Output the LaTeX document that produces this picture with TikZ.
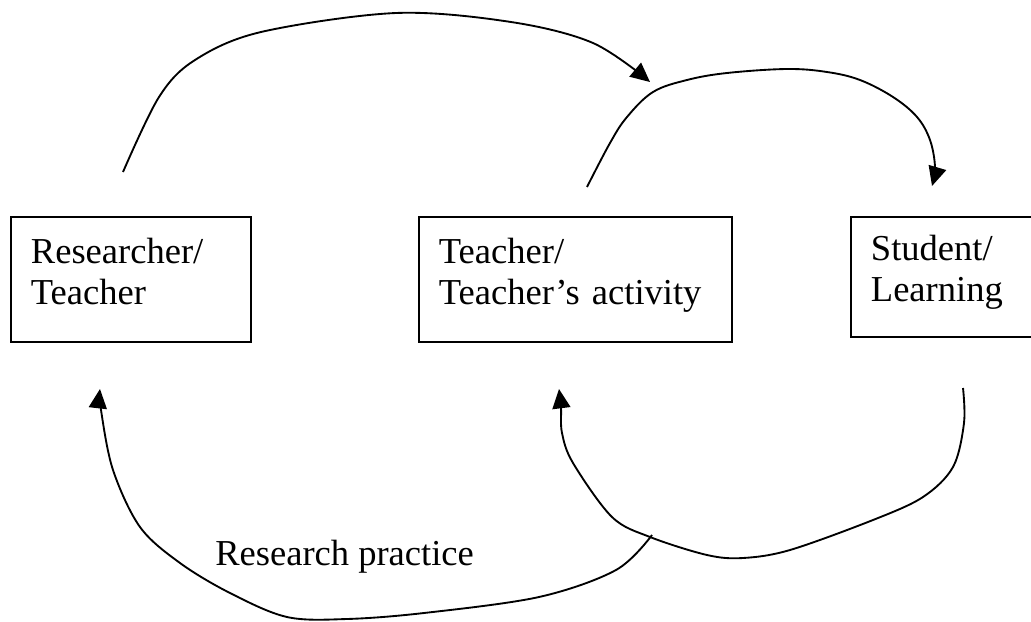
\documentclass[tikz,border=0pt]{standalone}
\usepackage{fontspec}
\setmainfont{Liberation Serif}
\usetikzlibrary{arrows.meta}
\newcommand\topstr{\rule{0pt}{21.5pt}}
\newcommand\botstr{\rule[-15.2pt]{0pt}{0pt}}
\begin{document}
\begin{tikzpicture}[x=0.75pt,y=-0.75pt,
  txt/.style={font=\fontsize{27.4pt}{30.75pt}\selectfont},
  box/.style={txt, draw, line width=1.4pt, rectangle, anchor=north west,
    inner xsep=15pt, inner ysep=0pt, align=left, minimum height=93.75pt},
  conn/.style={line width=1.4pt, -{Triangle[length=14.5pt,width=13.5pt]}},
  lab/.style={txt, inner sep=0pt, anchor=base west}]
\useasboundingbox (0,0) rectangle (1031,621);
\clip (0,0) rectangle (1031,621);

\node[box, text width=150pt, minimum width=180pt] (rt) at (10,216) {\topstr Researcher/\\Teacher\botstr};
\node[box, text width=204.75pt, minimum width=234.75pt] (ta) at (418,216) {\topstr Teacher/\\Teacher’s activity\botstr};
\node[box, text width=170pt, minimum width=200pt, minimum height=90pt] (sl) at (850,216) {\topstr Student/\\Learning\botstr};

\node[lab] (rp) at (215,565) {Research practice};

\coordinate (c1s) at (123,172);
\coordinate (c1e) at (650,82);
\coordinate (c2s) at (587,187);
\coordinate (c2e) at (932,186);
\coordinate (c3s) at (652,535);
\coordinate (c3e) at (100,389);
\coordinate (c4s) at (963,388);
\coordinate (c4e) at (559,389);

\draw[conn] plot[smooth, tension=0.55] coordinates {(c1s) (159,97) (195,60) (261,32) (396,13) (511,22) (593,43) (c1e)};
\draw[conn] plot[smooth, tension=0.6] coordinates {(c2s) (610,143) (627,117) (653,92) (687,80) (727,73) (787,69) (827,72) (860,80) (893,97) (917,117) (930,140) (935,167) (c2e)};
\draw[conn] plot[smooth, tension=0.55] coordinates {(c3s) (616,570) (539,597) (424,613) (347,619) (287,617) (230,593) (180,563) (140,527) (113,470) (101,410) (c3e)};
\draw[conn] plot[smooth, tension=0.55] coordinates {(c4s) (964,423) (953,467) (923,497) (873,520) (790,550) (743,558) (707,555) (650,537) (612,517) (573,463) (562,433) (561,408) (c4e)};
\end{tikzpicture}
\end{document}
